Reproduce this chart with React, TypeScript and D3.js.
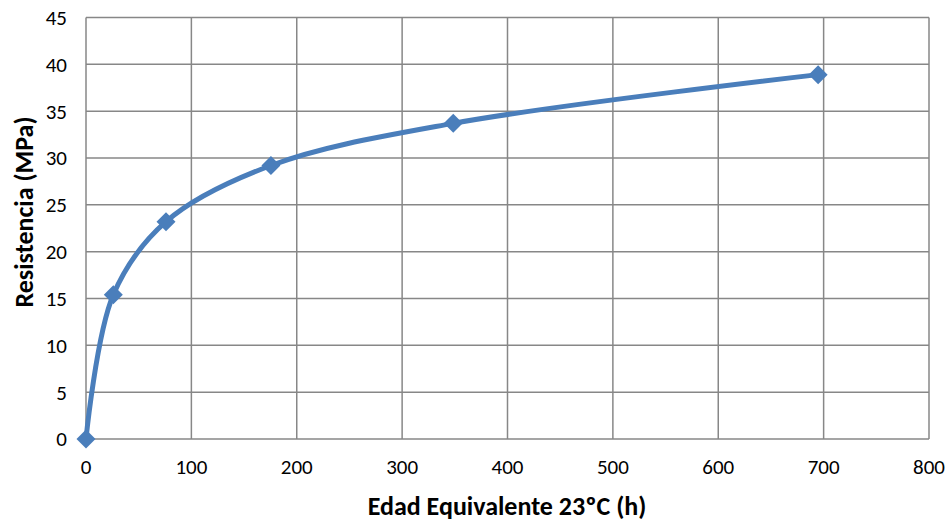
import React from "react";
import * as d3 from "d3";

const edadHoras = [0, 25.9, 75.9, 175.5, 348.5, 694.8];
const resistencia = [0, 15.4, 23.2, 29.2, 33.7, 38.9];
const xTicks = [0, 100, 200, 300, 400, 500, 600, 700, 800];
const yTicks = [0, 5, 10, 15, 20, 25, 30, 35, 40, 45];
const xTitle = "Edad Equivalente 23ºC (h)";
const yTitle = "Resistencia (MPa)";

export default function App() {
  const W = 948, H = 521;
  const x = d3.scaleLinear().domain([0, 800]).range([86, 929]);
  const y = d3.scaleLinear().domain([0, 45]).range([439, 17.5]);
  const pts = edadHoras.map((h, i) => [x(h), y(resistencia[i])] as [number, number]);
  const line = d3.line().curve(d3.curveCatmullRom.alpha(0.5))(pts) || "";
  const font = "Carlito, Calibri, 'Liberation Sans Narrow', Lato, sans-serif";
  const grid = "#878787";
  const blue = "#4a7ebb";
  return (
    <svg width={W} height={H} style={{ position: "absolute", left: 0, top: 0, background: "#fff" }}>
      {yTicks.map((t) => (
        <line key={"gy" + t} x1={x(0)} x2={x(800)} y1={y(t)} y2={y(t)} stroke={grid} strokeWidth={1.5} />
      ))}
      {xTicks.map((t) => (
        <line key={"gx" + t} x1={x(t)} x2={x(t)} y1={y(0)} y2={y(45)} stroke={grid} strokeWidth={1.5} />
      ))}
      {yTicks.map((t) => (
        <text key={"ty" + t} x={67} y={y(t)} dy="0.35em" textAnchor="end" fontFamily={font} fontSize={21} fill="#000">
          {t}
        </text>
      ))}
      {xTicks.map((t) => (
        <text key={"tx" + t} x={x(t)} y={467} dy="0.35em" textAnchor="middle" fontFamily={font} fontSize={21} fill="#000">
          {t}
        </text>
      ))}
      <path d={line} fill="none" stroke={blue} strokeWidth={5} strokeLinejoin="round" />
      {pts.map(([px, py], i) => (
        <path key={"m" + i} d={`M${px},${py - 9.5}L${px + 9.5},${py}L${px},${py + 9.5}L${px - 9.5},${py}Z`} fill={blue} />
      ))}
      <text x={507} y={506} dy="0.35em" textAnchor="middle" fontFamily={font} fontSize={26} fontWeight="bold" fill="#000">
        {xTitle}
      </text>
      <text transform={`translate(24,212) rotate(-90)`} dy="0.35em" textAnchor="middle" fontFamily={font} fontSize={26} fontWeight="bold" fill="#000">
        {yTitle}
      </text>
    </svg>
  );
}
